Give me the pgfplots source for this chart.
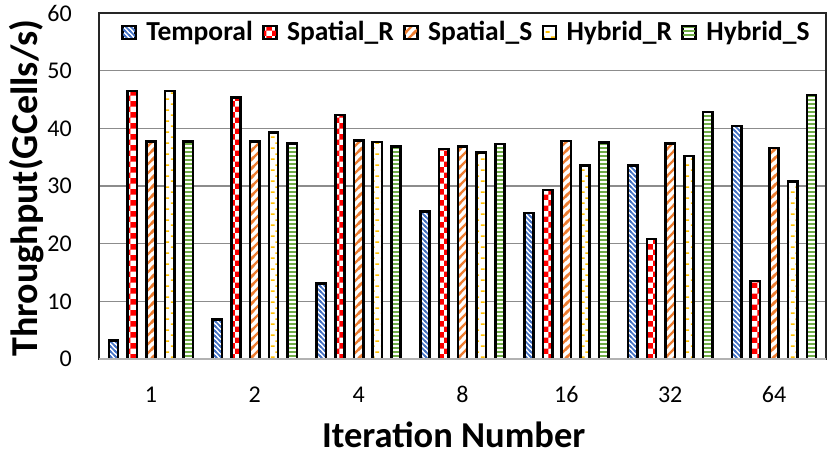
\documentclass[border=0pt]{standalone}
\usepackage{fontspec}
\setmainfont{Carlito}
\usepackage{pgfplots}
\pgfplotsset{compat=1.18}
\usepackage{pgfplotstable}
\usetikzlibrary{patterns}
\definecolor{cblue}{HTML}{4472C4}
\definecolor{cred}{HTML}{FF0000}
\definecolor{corange}{HTML}{ED7D31}
\definecolor{cyellow}{HTML}{FFC000}
\definecolor{cgreen}{HTML}{70AD47}
\pgfdeclarepatternformonly{hdashes}{\pgfqpoint{0pt}{0pt}}{\pgfqpoint{10pt}{11pt}}{\pgfqpoint{10pt}{11pt}}{%
  \pgfpathrectangle{\pgfqpoint{1pt}{0pt}}{\pgfqpoint{4pt}{1.8pt}}%
  \pgfpathrectangle{\pgfqpoint{6pt}{5.5pt}}{\pgfqpoint{4pt}{1.8pt}}%
  \pgfusepath{fill}}
\pgfdeclarepatternformonly{tdiag}{\pgfqpoint{-1pt}{-1pt}}{\pgfqpoint{6pt}{6pt}}{\pgfqpoint{5pt}{5pt}}{%
  \pgfsetlinewidth{1.5pt}%
  \pgfpathmoveto{\pgfqpoint{-1pt}{6pt}}\pgfpathlineto{\pgfqpoint{6pt}{-1pt}}%
  \pgfpathmoveto{\pgfqpoint{-1pt}{1pt}}\pgfpathlineto{\pgfqpoint{1pt}{-1pt}}%
  \pgfpathmoveto{\pgfqpoint{4pt}{6pt}}\pgfpathlineto{\pgfqpoint{6pt}{4pt}}%
  \pgfusepath{stroke}}
\pgfdeclarepatternformonly{odiag}{\pgfqpoint{-2pt}{-2pt}}{\pgfqpoint{11pt}{11pt}}{\pgfqpoint{9pt}{9pt}}{%
  \pgfsetlinewidth{2.4pt}%
  \pgfpathmoveto{\pgfqpoint{-2pt}{-2pt}}\pgfpathlineto{\pgfqpoint{11pt}{11pt}}%
  \pgfpathmoveto{\pgfqpoint{-2pt}{7pt}}\pgfpathlineto{\pgfqpoint{2pt}{11pt}}%
  \pgfpathmoveto{\pgfqpoint{7pt}{-2pt}}\pgfpathlineto{\pgfqpoint{11pt}{2pt}}%
  \pgfusepath{stroke}}
\pgfdeclarepatternformonly{ghoriz}{\pgfqpoint{0pt}{0pt}}{\pgfqpoint{40pt}{4pt}}{\pgfqpoint{40pt}{4pt}}{%
  \pgfpathrectangle{\pgfqpoint{0pt}{0pt}}{\pgfqpoint{40pt}{2.2pt}}%
  \pgfusepath{fill}}
\pgfplotstableread{
x T SR SS HR HS
0 3.2 46.5 37.7 46.5 37.7
1 6.8 45.3 37.7 39.3 37.4
2 13.1 42.3 37.9 37.6 36.9
3 25.6 36.4 36.9 35.8 37.3
4 25.3 29.3 37.8 33.6 37.5
5 33.6 20.8 37.4 35.2 42.8
6 40.4 13.5 36.6 30.8 45.8
}\datatable
\begin{document}
\begin{tikzpicture}
\begin{axis}[
  at={(0pt,0pt)}, anchor=south west,
  scale only axis, width=727pt, height=346pt,
  ybar, bar width=9.3pt,
  xmin=-0.5, xmax=6.5, ymin=0, ymax=60,
  xtick={0,1,2,3,4,5,6},
  xticklabels={1,2,4,8,16,32,64},
  ytick={0,10,20,30,40,50,60},
  major tick length=0pt,
  ymajorgrids, grid style={black!45, line width=1.3pt},
  axis line style={black!85, line width=1.3pt},
  tick label style={font=\fontsize{24}{28}\selectfont},
  /pgf/number format/assume math mode=true,
  xticklabel style={anchor=base, yshift=-43pt, inner sep=0pt},
  yticklabel style={anchor=east, inner sep=0pt, xshift=-27pt},
  xlabel={Iteration Number},
  ylabel={Throughput(GCells/s)},
  xlabel style={font=\bfseries\fontsize{36.5}{40}\selectfont, at={(axis description cs:0.488,-0.255)}, anchor=base, inner sep=0pt},
  ylabel style={font=\bfseries\fontsize{38}{42}\selectfont, at={(axis description cs:-0.124,0.494)}, anchor=north, inner sep=0pt},
  legend columns=5,
  legend style={draw=none, fill=none, at={(axis description cs:0.0316,0.945)}, anchor=west,
    font=\bfseries\fontsize{27.5}{30}\selectfont, inner sep=0pt, outer sep=0pt,
    nodes={inner sep=0pt},
    /tikz/every odd column/.append style={column sep=10pt},
    /tikz/every even column/.append style={column sep=10pt}},
  legend image code/.code={\draw[#1, line width=1.3pt] (0pt,-7pt) rectangle (13pt,6pt);},
]
\addplot[draw=black, line width=2.6pt, bar shift=-37.4pt, preaction={fill=white},
  pattern=tdiag, pattern color=cblue]
  table[x=x,y=T]{\datatable};
\addplot[draw=black, line width=2.6pt, bar shift=-18.7pt, preaction={fill=white},
  pattern=checkerboard, pattern color=cred]
  table[x=x,y=SR]{\datatable};
\addplot[draw=black, line width=2.6pt, bar shift=0pt, preaction={fill=white},
  pattern=odiag, pattern color=corange]
  table[x=x,y=SS]{\datatable};
\addplot[draw=black, line width=2.6pt, bar shift=18.7pt, preaction={fill=white},
  pattern=hdashes, pattern color=cyellow]
  table[x=x,y=HR]{\datatable};
\addplot[draw=black, line width=2.6pt, bar shift=37.4pt, preaction={fill=white},
  pattern=ghoriz, pattern color=cgreen]
  table[x=x,y=HS]{\datatable};
\legend{Temporal,Spatial\_R,Spatial\_S,Hybrid\_R,Hybrid\_S}
\draw[black!30, line width=2pt] (rel axis cs:0,0) -- (rel axis cs:1,0);
\end{axis}
\path (-99pt,-97pt) rectangle (731pt,359pt);
\end{tikzpicture}
\end{document}
